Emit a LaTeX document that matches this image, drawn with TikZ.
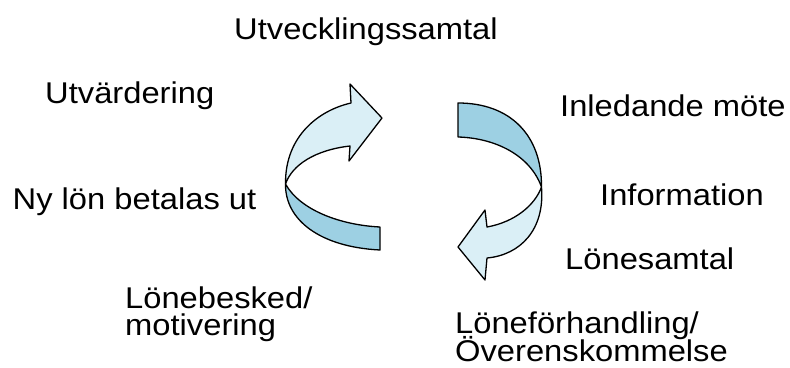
\documentclass[tikz,border=0pt]{standalone}
\usepackage{fontspec}
\setmainfont{Liberation Sans}[FakeStretch=1.09]
\definecolor{bandlight}{HTML}{DAEFF6}
\definecolor{banddark}{HTML}{9DD0E3}
\begin{document}
\begin{tikzpicture}[x=1pt,y=-1pt,
  lbl/.style={anchor=base west,inner sep=0pt,font=\fontsize{30}{30}\selectfont},
  band/.style={draw=black,line width=1.3pt,line join=round}]
\useasboundingbox (0,0) rectangle (790,367);
\fill[white] (0,0) rectangle (790,367);
% left arrow
\coordinate (c1) at (285.5,184);
\draw[band,fill=banddark] (c1) .. controls (300,210) and (340,225) .. (380,227)
  -- (380,250) .. controls (320,247) and (285,220) .. (c1) -- cycle;
\draw[band,fill=bandlight] (c1) .. controls (285,135) and (320,110) .. (351,103)
  -- (350,84) -- (382,118) -- (349,161) -- (350,146)
  .. controls (315,150) and (292,165) .. (c1) -- cycle;
% right arrow
\coordinate (c2) at (541.5,187);
\draw[band,fill=banddark] (458,103) .. controls (510,103) and (542,135) .. (c2)
  .. controls (530,155) and (495,138) .. (458,137) -- cycle;
\draw[band,fill=bandlight] (c2) .. controls (545,230) and (520,255) .. (487,258)
  -- (485,280) -- (458,247) -- (485,210) -- (487,227)
  .. controls (515,222) and (535,205) .. (c2) -- cycle;
% labels
\node[lbl] (t1) at (234,39) {Utvecklingssamtal};
\node[lbl] (t2) at (45,103) {Utvärdering};
\node[lbl] (t3) at (12.5,209) {Ny lön betalas ut};
\node[lbl] (t4) at (560,116) {Inledande möte};
\node[lbl] (t5) at (600,205) {Information};
\node[lbl] (t6) at (565,269.5) {Lönesamtal};
\node[lbl] (t7) at (125,308) {Lönebesked/};
\node[lbl] (t8) at (125,335.5) {motivering};
\node[lbl] (t9) at (455,333.5) {Löneförhandling/};
\node[lbl] (t10) at (455,361.5) {Överenskommelse};
\end{tikzpicture}
\end{document}
